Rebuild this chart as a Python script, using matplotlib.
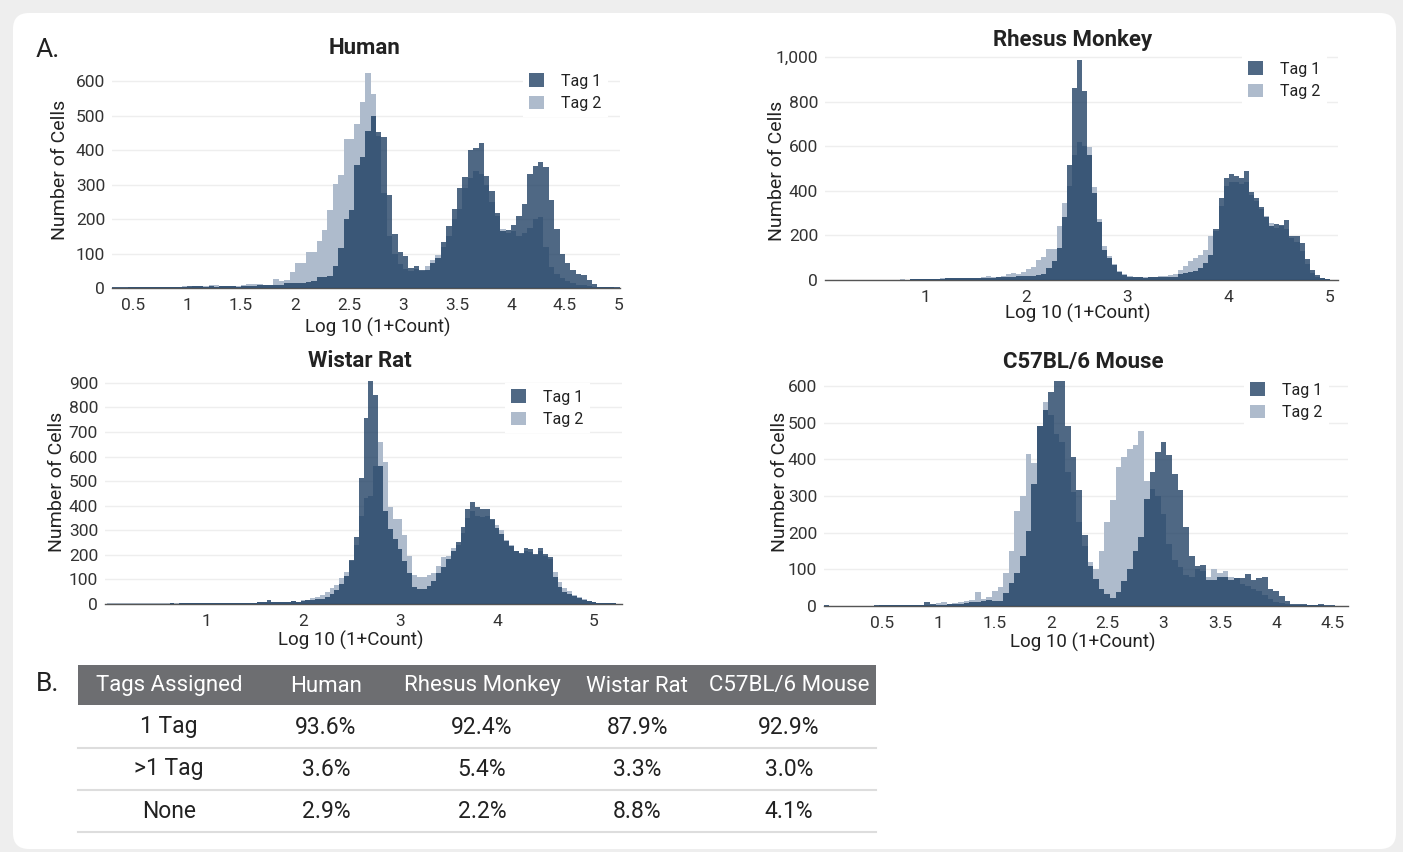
import numpy as np
import matplotlib.pyplot as plt
from matplotlib.patches import FancyBboxPatch, Rectangle
from matplotlib.ticker import FuncFormatter

plt.rcParams['font.family'] = ['Roboto', 'DejaVu Sans']

BIN = 0.05

# histogram counts per 0.05 bin of log10(1+count); first bin left edge given by *_start
human_start = 0.30
human_tag1 = [2, 2, 2, 2, 2, 2, 3, 2, 2, 3,
              3, 2, 2, 3, 5, 6, 5, 4, 5, 4,
              5, 6, 6, 4, 6, 7, 7, 8, 9, 8,
              8, 10, 14, 15, 15, 15, 17, 19, 32, 32,
              36, 63, 117, 199, 227, 356, 380, 456, 500, 452,
              437, 270, 156, 105, 92, 57, 63, 51, 51, 73,
              86, 132, 180, 229, 289, 321, 401, 407, 421, 325,
              280, 218, 165, 168, 184, 210, 244, 332, 353, 366,
              351, 256, 170, 98, 73, 53, 41, 38, 22, 12,
              4, 3, 3, 3, 2]
human_tag2 = [1, 1, 1, 2, 2, 3, 2, 4, 3, 2,
              4, 3, 3, 5, 4, 5, 6, 7, 8, 8,
              7, 6, 7, 6, 8, 12, 13, 12, 10, 9,
              25, 20, 22, 46, 73, 73, 103, 103, 136, 167,
              227, 302, 328, 433, 433, 476, 540, 624, 564, 440,
              275, 150, 100, 70, 55, 50, 55, 50, 65, 80,
              95, 120, 150, 200, 230, 290, 320, 340, 330, 300,
              250, 210, 170, 160, 165, 150, 160, 175, 200, 205,
              120, 60, 40, 30, 20, 15, 10, 8, 5, 3,
              2, 2, 2, 1, 1]

rhesus_start = 0.00
rhesus_tag1 = [1, 1, 1, 1, 1, 1, 1, 1, 1, 1,
               1, 1, 2, 1, 2, 2, 2, 3, 3, 4,
               5, 4, 5, 6, 7, 8, 7, 8, 8, 9,
               9, 10, 10, 11, 12, 13, 14, 15, 16, 17,
               20, 20, 22, 28, 55, 85, 144, 284, 514, 862,
               988, 847, 561, 388, 262, 136, 99, 65, 38, 22,
               15, 13, 12, 10, 13, 12, 14, 15, 14, 15,
               25, 33, 37, 40, 55, 77, 114, 230, 366, 455,
               477, 465, 455, 487, 395, 366, 329, 284, 240, 250,
               247, 270, 195, 195, 166, 92, 47, 21, 10, 6,
               2]
rhesus_tag2 = [1, 1, 1, 1, 1, 1, 1, 1, 1, 1,
               1, 2, 1, 2, 2, 3, 2, 3, 3, 4,
               6, 5, 6, 7, 8, 9, 8, 10, 9, 10,
               11, 12, 20, 14, 15, 18, 25, 30, 28, 38,
               48, 60, 90, 105, 140, 140, 240, 344, 420, 560,
               620, 600, 598, 418, 274, 151, 107, 70, 40, 25,
               18, 13, 12, 13, 12, 15, 16, 20, 24, 28,
               47, 62, 84, 99, 114, 136, 195, 218, 330, 420,
               440, 440, 430, 440, 380, 355, 320, 285, 255, 235,
               240, 230, 190, 170, 130, 70, 30, 15, 8, 4,
               1]

rat_start = -0.025
rat_tag1 = [2, 2, 2, 2, 2, 2, 2, 2, 2, 2,
            2, 2, 2, 3, 2, 3, 3, 3, 3, 3,
            4, 3, 4, 5, 6, 5, 4, 5, 6, 6,
            6, 7, 8, 15, 9, 8, 9, 10, 12, 10,
            12, 15, 18, 20, 22, 30, 40, 56, 80, 115,
            180, 271, 513, 758, 909, 851, 560, 380, 306, 265,
            224, 176, 128, 71, 60, 63, 74, 94, 128, 149,
            185, 217, 251, 312, 387, 417, 395, 385, 385, 345,
            311, 284, 255, 236, 216, 209, 229, 222, 205, 229,
            202, 190, 110, 70, 50, 42, 32, 24, 16, 12,
            8, 6, 4, 3, 3, 2]
rat_tag2 = [3, 3, 3, 3, 3, 3, 3, 3, 3, 3,
            3, 3, 3, 3, 3, 3, 3, 4, 3, 4,
            4, 4, 4, 5, 5, 5, 5, 5, 5, 6,
            6, 7, 8, 10, 8, 8, 9, 10, 11, 10,
            15, 18, 25, 28, 35, 48, 65, 78, 105, 130,
            175, 240, 360, 430, 440, 560, 660, 580, 394, 347,
            347, 281, 196, 117, 108, 108, 117, 128, 155, 190,
            196, 226, 240, 290, 350, 380, 360, 355, 360, 340,
            320, 300, 262, 240, 215, 205, 215, 210, 200, 215,
            195, 185, 130, 90, 65, 52, 38, 28, 20, 14,
            10, 6, 4, 3, 3, 2]

mouse_start = -0.025
mouse_tag1 = [2, 1, 1, 1, 1, 1, 1, 1, 1, 2,
              3, 2, 3, 2, 4, 3, 2, 3, 10, 5,
              3, 4, 5, 5, 6, 8, 10, 12, 14, 15,
              14, 14, 35, 62, 91, 137, 205, 333, 491, 535,
              582, 612, 612, 491, 406, 315, 194, 110, 73, 46,
              32, 23, 37, 68, 100, 151, 187, 292, 365, 420,
              447, 411, 361, 315, 215, 137, 108, 113, 70, 70,
              79, 79, 70, 77, 77, 86, 70, 75, 80, 45,
              41, 27, 14, 6, 5, 5, 4, 3, 5, 2,
              2, 1, 1]
mouse_tag2 = [1, 1, 1, 1, 1, 1, 1, 1, 1, 1,
              2, 2, 4, 2, 3, 4, 3, 2, 3, 4,
              8, 12, 6, 7, 10, 14, 15, 38, 20, 25,
              40, 53, 91, 151, 260, 301, 413, 391, 491, 555,
              520, 470, 447, 365, 310, 228, 164, 119, 100, 150,
              228, 288, 379, 406, 427, 440, 477, 340, 320, 300,
              250, 170, 125, 105, 85, 78, 100, 95, 80, 100,
              90, 95, 80, 75, 60, 55, 45, 40, 30, 20,
              12, 8, 5, 4, 3, 3, 2, 2, 2, 1,
              1, 1, 1]

# table B
table_header = ['Tags Assigned', 'Human', 'Rhesus Monkey', 'Wistar Rat', 'C57BL/6 Mouse']
row_labels = ['1 Tag', '>1 Tag', 'None']
pct_human = [93.6, 3.6, 2.9]
pct_rhesus = [92.4, 5.4, 2.2]
pct_rat = [87.9, 3.3, 8.8]
pct_mouse = [92.9, 3.0, 4.1]

TAG1_COLOR = '#14365b'
TAG2_COLOR = '#aebbcc'
TEXT = '#222222'

W, H = 1403, 852
fig = plt.figure(figsize=(W / 100, H / 100), dpi=100)
fig.patch.set_facecolor('#eeeeee')


def px_rect(left, top, right, bottom):
    return [left / W, 1 - bottom / H, (right - left) / W, (bottom - top) / H]


# background card + table live on one pixel-space axes
bg = fig.add_axes([0, 0, 1, 1], zorder=-10)
bg.set_xlim(0, W)
bg.set_ylim(H, 0)
bg.axis('off')
bg.add_patch(FancyBboxPatch((13, 13), 1383, 836,
                            boxstyle='round,pad=0,rounding_size=16',
                            fc='white', ec='none'))


def draw_panel(box, title, start, tag1, tag2, xlim, ymax, xticks, yticks,
               title_xy, xlabel_xy, ylabel_xy, legend_xy):
    ax = fig.add_axes(px_rect(*box))
    ax.set_facecolor('none')
    edges = start + BIN * np.arange(len(tag1) + 1)
    h2 = ax.stairs(tag2, edges, fill=True, color=TAG2_COLOR, lw=0, zorder=2)
    h1 = ax.stairs(tag1, edges, fill=True, color=TAG1_COLOR, alpha=0.75, lw=0, zorder=3)

    ax.set_xlim(*xlim)
    ax.set_ylim(0, ymax)
    ax.set_xticks(xticks)
    ax.set_yticks(yticks)
    ax.xaxis.set_major_formatter(FuncFormatter(lambda v, p: f'{v:g}'))
    ax.yaxis.set_major_formatter(FuncFormatter(lambda v, p: f'{int(v):,}'))
    ax.tick_params(length=0, labelsize=12.5, colors='#333333')
    ax.tick_params(axis='x', pad=7)
    ax.tick_params(axis='y', pad=5)
    for s in ['top', 'right', 'left']:
        ax.spines[s].set_visible(False)
    ax.spines['bottom'].set_color('#555555')
    ax.spines['bottom'].set_linewidth(1.0)
    ax.yaxis.grid(True, color='#eeeeee', lw=1)
    ax.set_axisbelow(True)

    fig.text(title_xy[0] / W, 1 - title_xy[1] / H, title, ha='center', va='center',
             fontsize=16, fontweight='bold', color=TEXT)
    fig.text(xlabel_xy[0] / W, 1 - xlabel_xy[1] / H, 'Log 10 (1+Count)', ha='center',
             va='center', fontsize=13.5, color=TEXT)
    fig.text(ylabel_xy[0] / W, 1 - ylabel_xy[1] / H, 'Number of Cells', ha='center',
             va='center', rotation=90, fontsize=14, color=TEXT)

    leg = ax.legend([h1, h2], ['Tag 1', 'Tag 2'], loc='upper left',
                    bbox_to_anchor=(legend_xy[0] / W, 1 - legend_xy[1] / H),
                    bbox_transform=fig.transFigure, borderaxespad=0,
                    fontsize=11.5, handlelength=0.9, handleheight=0.9,
                    handletextpad=1.1, labelspacing=0.45, borderpad=0.4,
                    frameon=True, fancybox=False)
    leg.get_frame().set_facecolor('white')
    leg.get_frame().set_edgecolor('none')
    leg.get_frame().set_alpha(1)
    for t in leg.get_texts():
        t.set_color(TEXT)
    return ax


draw_panel((112, 68, 620, 288), 'Human', human_start, human_tag1, human_tag2,
           (0.306, 5.01), 638, [0.5, 1, 1.5, 2, 2.5, 3, 3.5, 4, 4.5, 5],
           range(0, 601, 100), (365, 48), (378, 327), (60, 170), (523, 67))
draw_panel((825, 54, 1338, 280), 'Rhesus Monkey', rhesus_start, rhesus_tag1, rhesus_tag2,
           (0.012, 5.08), 1013, [1, 2, 3, 4, 5],
           range(0, 1001, 200), (1073, 40), (1078, 313), (777, 171), (1242, 55))
draw_panel((105, 378, 622, 604), 'Wistar Rat', rat_start, rat_tag1, rat_tag2,
           (-0.041, 5.289), 920, [1, 2, 3, 4, 5],
           range(0, 901, 100), (360, 361), (351, 640), (57, 482), (505, 383))
draw_panel((824, 380, 1348, 606), 'C57BL/6 Mouse', mouse_start, mouse_tag1, mouse_tag2,
           (-0.016, 4.638), 616, [0.5, 1, 1.5, 2, 2.5, 3, 3.5, 4, 4.5],
           range(0, 601, 100), (1083, 362), (1083, 642), (780, 482), (1244, 376))

# panel letters
bg.text(48, 50, 'A.', ha='center', va='center', fontsize=19, color=TEXT)
bg.text(48, 684, 'B.', ha='center', va='center', fontsize=19, color=TEXT)

# table
col_x = [169, 326, 482, 637, 789]
row_y = [727, 769, 811]
line_y = [748, 790, 832]
bg.add_patch(Rectangle((78, 665), 798, 40, fc='#6d6e71', ec='none'))
for x, label in zip(col_x, table_header):
    bg.text(x, 686, label, ha='center', va='center', fontsize=16, color='white')

columns = [pct_human, pct_rhesus, pct_rat, pct_mouse]
for i, (y, label) in enumerate(zip(row_y, row_labels)):
    bg.text(col_x[0], y, label, ha='center', va='center', fontsize=16.5, color=TEXT)
    for x, col in zip(col_x[1:], columns):
        bg.text(x, y, f'{col[i]:.1f}%', ha='center', va='center', fontsize=16.5, color=TEXT)
for y in line_y:
    bg.plot([78, 876], [y, y], color='#dddddd', lw=1.5)

fig.savefig('out.png', dpi=100, facecolor=fig.get_facecolor())
